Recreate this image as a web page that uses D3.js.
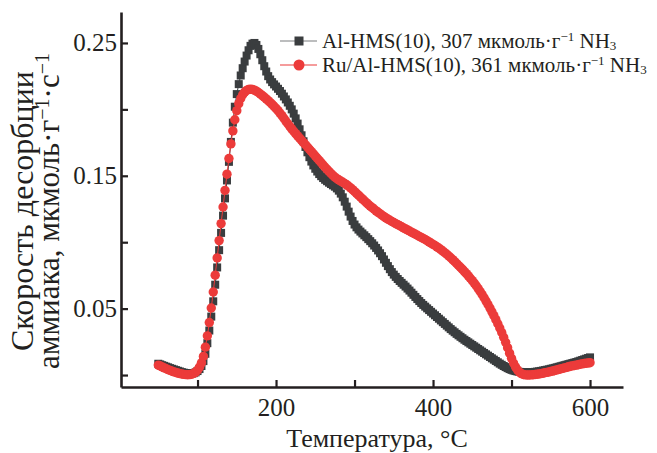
<!DOCTYPE html>
<html><head><meta charset="utf-8">
<script src="https://cdn.jsdelivr.net/npm/d3@7/dist/d3.min.js"></script>
<style>
body{margin:0;background:#fff}
svg{display:block}
text{font-family:"Liberation Serif","Times New Roman",serif;fill:#231f20}
</style>
</head><body>
<svg id="chart" width="657" height="453"></svg>
<script>
const temperatures = [
50,52.5,55,57.5,60,62.5,65,67.5,70,72.5,75,77.5,80,82.5,85,87.5,90,92.5,95,97.5,
100,102.5,105,107.5,110,112.5,115,117.5,120,122.5,125,127.5,130,132.5,135,137.5,140,142.5,145,147.5,
150,152.5,155,157.5,160,162.5,165,167.5,170,172.5,175,177.5,180,182.5,185,187.5,190,192.5,195,197.5,
200,202.5,205,207.5,210,212.5,215,217.5,220,222.5,225,227.5,230,232.5,235,237.5,240,242.5,245,247.5,
250,252.5,255,257.5,260,262.5,265,267.5,270,272.5,275,277.5,280,282.5,285,287.5,290,292.5,295,297.5,
300,302.5,305,307.5,310,312.5,315,317.5,320,322.5,325,327.5,330,332.5,335,337.5,340,342.5,345,347.5,
350,352.5,355,357.5,360,362.5,365,367.5,370,372.5,375,377.5,380,382.5,385,387.5,390,392.5,395,397.5,
400,402.5,405,407.5,410,412.5,415,417.5,420,422.5,425,427.5,430,432.5,435,437.5,440,442.5,445,447.5,
450,452.5,455,457.5,460,462.5,465,467.5,470,472.5,475,477.5,480,482.5,485,487.5,490,492.5,495,497.5,
500,502.5,505,507.5,510,512.5,515,517.5,520,522.5,525,527.5,530,532.5,535,537.5,540,542.5,545,547.5,
550,552.5,555,557.5,560,562.5,565,567.5,570,572.5,575,577.5,580,582.5,585,587.5,590,592.5,595,597.5,
600];

// Al-HMS(10)
const alHmsRate = [
.0085,.0080,.0074,.0069,.0063,.0058,.0052,.0047,.0042,.0037,.0032,.0027,.0022,.0018,.0015,.0012,.0010,.0011,.0014,.0020,
.0030,.0045,.0068,.0105,.0160,.0240,.0335,.0440,.0555,.0680,.0810,.0940,.1070,.1200,.1330,.1465,.1605,.1755,.1900,.2020,
.2115,.2190,.2255,.2310,.2360,.2405,.2445,.2478,.2495,.2500,.2485,.2455,.2415,.2370,.2325,.2285,.2250,.2225,.2205,.2188,
.2172,.2155,.2138,.2118,.2097,.2075,.2052,.2027,.2000,.1968,.1932,.1893,.1850,.1805,.1760,.1717,.1677,.1640,.1607,.1578,
.1553,.1532,.1513,.1497,.1483,.1470,.1459,.1448,.1438,.1428,.1418,.1405,.1388,.1366,.1338,.1305,.1268,.1230,.1193,.1160,
.1133,.1112,.1095,.1080,.1066,.1052,.1038,.1023,.1008,.0992,.0975,.0957,.0938,.0917,.0895,.0870,.0845,.0820,.0797,.0775,
.0756,.0739,.0723,.0708,.0694,.0680,.0666,.0651,.0636,.0620,.0604,.0588,.0572,.0557,.0542,.0528,.0515,.0502,.0489,.0476,
.0463,.0450,.0437,.0424,.0411,.0398,.0385,.0372,.0359,.0346,.0334,.0322,.0310,.0299,.0288,.0277,.0266,.0256,.0246,.0236,
.0226,.0216,.0206,.0196,.0186,.0176,.0166,.0156,.0146,.0136,.0126,.0116,.0106,.0096,.0086,.0077,.0068,.0060,.0052,.0045,
.0039,.0034,.0030,.0027,.0024,.0022,.0021,.0020,.0020,.0020,.0021,.0022,.0024,.0026,.0028,.0031,.0034,.0037,.0040,.0043,
.0047,.0050,.0054,.0058,.0062,.0066,.0070,.0074,.0078,.0082,.0086,.0090,.0094,.0098,.0103,.0108,.0113,.0118,.0123,.0128,
.0133];

// Ru/Al-HMS(10)
const ruAlHmsRate = [
.0075,.0068,.0061,.0054,.0047,.0041,.0035,.0029,.0024,.0019,.0015,.0011,.0008,.0005,.0003,.0002,.0003,.0006,.0012,.0022,
.0037,.0060,.0092,.0140,.0210,.0295,.0395,.0505,.0625,.0752,.0882,.1012,.1140,.1265,.1390,.1512,.1630,.1740,.1838,.1922,
.1990,.2043,.2082,.2110,.2130,.2143,.2150,.2152,.2150,.2145,.2137,.2127,.2116,.2104,.2092,.2079,.2066,.2052,.2038,.2023,
.2007,.1990,.1972,.1953,.1933,.1912,.1892,.1872,.1853,.1835,.1817,.1800,.1783,.1767,.1750,.1734,.1717,.1700,.1683,.1666,
.1649,.1632,.1615,.1598,.1581,.1564,.1548,.1532,.1517,.1503,.1490,.1479,.1469,.1460,.1451,.1442,.1432,.1421,.1409,.1396,
.1382,.1368,.1354,.1340,.1326,.1312,.1298,.1285,.1272,.1260,.1248,.1236,.1225,.1214,.1203,.1193,.1183,.1174,.1165,.1156,
.1148,.1140,.1132,.1124,.1116,.1108,.1100,.1092,.1084,.1076,.1068,.1060,.1052,.1044,.1036,.1028,.1020,.1011,.1002,.0993,
.0984,.0975,.0965,.0955,.0944,.0933,.0921,.0909,.0896,.0883,.0869,.0855,.0840,.0825,.0810,.0795,.0779,.0763,.0746,.0729,
.0711,.0692,.0672,.0651,.0629,.0606,.0582,.0557,.0531,.0504,.0476,.0447,.0417,.0386,.0354,.0320,.0284,.0246,.0206,.0165,
.0126,.0091,.0062,.0039,.0022,.0011,.0004,.0001,.0000,.0000,.0001,.0002,.0004,.0006,.0008,.0011,.0014,.0017,.0020,.0023,
.0027,.0030,.0034,.0038,.0042,.0046,.0050,.0054,.0058,.0062,.0066,.0069,.0072,.0075,.0078,.0081,.0084,.0087,.0089,.0091,
.0093];

const xTicks = [100,200,300,400,500,600];
const xTickLabels = ["","200","","400","","600"];
const yTicks = [0,0.05,0.10,0.15,0.20,0.25];
const yTickLabels = ["","0.05","","0.15","","0.25"];

const seriesNames = ["Al-HMS(10), 307 мкмоль·г", "Ru/Al-HMS(10), 361 мкмоль·г"];
const xTitle = "Температура, °C";
const yTitle1 = "Скорость десорбции";
const yTitle2 = "аммиака, мкмоль·г";

const BLACK = "#3a3d3f", RED = "#ec3b3a", INK = "#231f20";

const svg = d3.select("#chart");
const x = d3.scaleLinear().domain([2.5, 642]).range([121, 623]);
const y = d3.scaleLinear().domain([-0.009, 0.2733]).range([387, 12]);

// axes
const xAxis = d3.axisBottom(x).tickValues(xTicks).tickSize(-7).tickSizeOuter(0).tickPadding(11)
  .tickFormat((d,i)=>xTickLabels[i]);
const yAxis = d3.axisLeft(y).tickValues(yTicks).tickSize(-7).tickSizeOuter(0).tickPadding(4)
  .tickFormat((d,i)=>yTickLabels[i]);

const gx = svg.append("g").attr("transform","translate(0,387)").call(xAxis);
const gy = svg.append("g").attr("transform","translate(121,0)").call(yAxis);
[gx,gy].forEach(g=>{
  g.select(".domain").attr("stroke",INK).attr("stroke-width",2.6);
  g.selectAll(".tick line").attr("stroke",INK).attr("stroke-width",2.2);
  g.selectAll(".tick text").attr("fill",INK).style("font-size","25px")
   .style("font-family",'"Liberation Serif","Times New Roman",serif');
});

// data
const blackData = temperatures.map((t,i)=>({t, v: alHmsRate[i]}));
const redData = temperatures.map((t,i)=>({t, v: ruAlHmsRate[i]}));
const line = d3.line().x(d=>x(d.t)).y(d=>y(d.v));

const plot = svg.append("g");
plot.append("path").datum(blackData).attr("d",line).attr("fill","none").attr("stroke",BLACK).attr("stroke-width",1);
plot.append("g").selectAll("rect").data(blackData).join("rect")
  .attr("x",d=>x(d.t)-4).attr("y",d=>y(d.v)-4).attr("width",8).attr("height",8)
  .attr("fill",BLACK);
plot.append("path").datum(redData).attr("d",line).attr("fill","none").attr("stroke",RED).attr("stroke-width",1);
plot.append("g").selectAll("circle").data(redData).join("circle")
  .attr("cx",d=>x(d.t)).attr("cy",d=>y(d.v)).attr("r",4.7)
  .attr("fill",RED);

// legend
const legend = svg.append("g");
const rows = [{c:BLACK, shape:"square", name:seriesNames[0], yy:41},{c:RED, shape:"circle", name:seriesNames[1], yy:65}];
rows.forEach(r=>{
  legend.append("line").attr("x1",280).attr("x2",317).attr("y1",r.yy).attr("y2",r.yy)
    .attr("stroke", r.shape==="square" ? "#7a7d7f" : RED).attr("stroke-width",1.2);
  if(r.shape==="square") legend.append("rect").attr("x",299-4.5).attr("y",r.yy-4.5).attr("width",9).attr("height",9).attr("fill",BLACK);
  else legend.append("circle").attr("cx",299).attr("cy",r.yy).attr("r",5.5).attr("fill",RED);
  const t = legend.append("text").attr("x",322).attr("y",r.yy+7).style("font-size","21px");
  t.append("tspan").text(r.name);
  t.append("tspan").attr("dy",-7).style("font-size","13px").text("−1");
  t.append("tspan").attr("dy",7).text(" NH");
  t.append("tspan").attr("dy",2).style("font-size","13px").text("3");
});

// titles
svg.append("text").attr("x",377).attr("y",447).attr("text-anchor","middle").style("font-size","26px").text(xTitle);
const yt1 = svg.append("text").attr("transform","translate(33,211) rotate(-90)").attr("text-anchor","middle").style("font-size","32px").text(yTitle1);
const yt2 = svg.append("text").attr("transform","translate(59,211) rotate(-90)").attr("text-anchor","middle").style("font-size","31px");
yt2.append("tspan").text(yTitle2);
yt2.append("tspan").attr("dy",-10).style("font-size","20px").text("−1");
yt2.append("tspan").attr("dy",10).text("·с");
yt2.append("tspan").attr("dy",-10).style("font-size","20px").text("−1");
</script>
</body></html>
